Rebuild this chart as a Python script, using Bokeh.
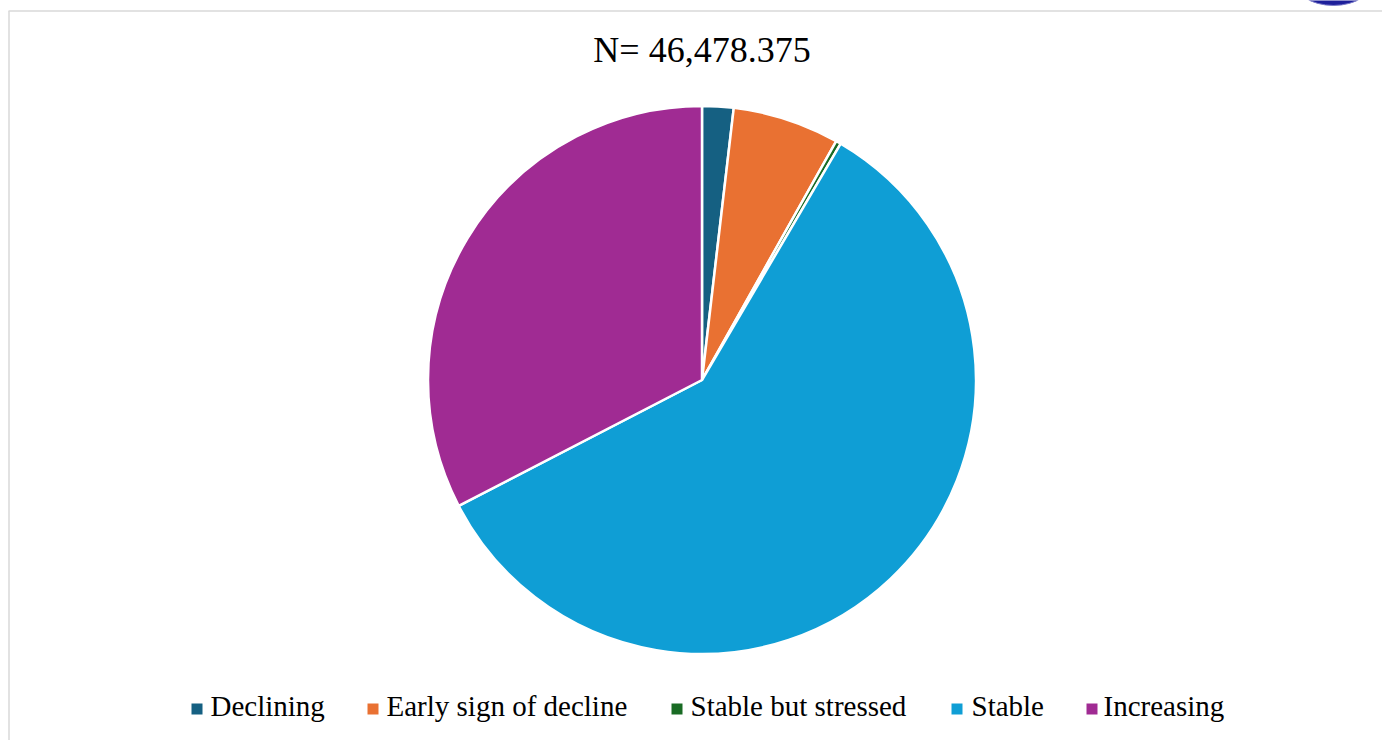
import numpy as np
from bokeh.plotting import figure
from bokeh.models import ColumnDataSource, Range1d
from bokeh.core.properties import value
from bokeh.embed import file_html
from bokeh.resources import INLINE

# ---- data ----
title_text = "N= 46,478.375"
categories = ["Declining", "Early sign of decline", "Stable but stressed", "Stable", "Increasing"]
shares = [1.85, 6.30, 0.30, 58.95, 32.60]  # percent of total
colors = ["#156082", "#E97132", "#196B24", "#0F9ED5", "#A02B93"]

# ---- layout (page px -> data coords) ----
W, H = 1382, 740
def dx(px):
    return px
def dy(py):
    return H - py

frac = np.array(shares, dtype=float) / np.sum(shares)
cum = np.concatenate([[0.0], np.cumsum(frac)])
start = np.pi / 2 - 2 * np.pi * cum[:-1]
end = np.pi / 2 - 2 * np.pi * cum[1:]

src = ColumnDataSource(dict(cat=categories, start=start, end=end, color=colors))

p = figure(width=W, height=H, output_backend="svg", toolbar_location=None,
           x_range=Range1d(0, W), y_range=Range1d(0, H),
           x_axis_location=None, y_axis_location=None, min_border=0,
           background_fill_color="white", border_fill_color="white")
p.outline_line_color = None
p.grid.visible = False

# frame lines of the slide
p.segment(x0=[dx(8), dx(8.5)], y0=[dy(10.5), dy(10.5)], x1=[W, dx(8.5)], y1=[dy(10.5), 0],
          line_color="#d9d9d9", line_width=1.5)

# cropped logo at the top right corner
p.ellipse(x=[dx(1333)], y=[dy(-22)], width=82, height=54,
          fill_color="#1d1f9a", line_color="#7a7ac8", line_width=1)

# pie
p.wedge(x=dx(701.5), y=dy(379.5), radius=274, start_angle="start", end_angle="end",
        direction="clock", fill_color="color", line_color="white", line_width=2.5, source=src)

# title
p.text(x=[dx(701.5)], y=[dy(49)], text=[title_text], text_align="center",
       text_baseline="alphabetic", text_font=value("Liberation Serif"),
       text_font_size="36px", text_color="black")

# legend
sq_x = [196.5, 372.5, 676.5, 956.5, 1091.5]
tx_x = [210, 386, 690, 971, 1103]
leg = ColumnDataSource(dict(sx=[dx(v) for v in sq_x], tx=[dx(v) for v in tx_x],
                            sy=[dy(708.5)] * 5, ty=[dy(705)] * 5,
                            cat=categories, color=colors))
p.scatter(x="sx", y="sy", marker="square", size=11, fill_color="color",
          line_color=None, source=leg)
p.text(x="tx", y="ty", text="cat", text_align="left", text_baseline="alphabetic",
       text_font=value("Liberation Serif"), text_font_size="29px",
       text_color="black", source=leg)

open("out.html", "w").write(file_html(p, INLINE))
